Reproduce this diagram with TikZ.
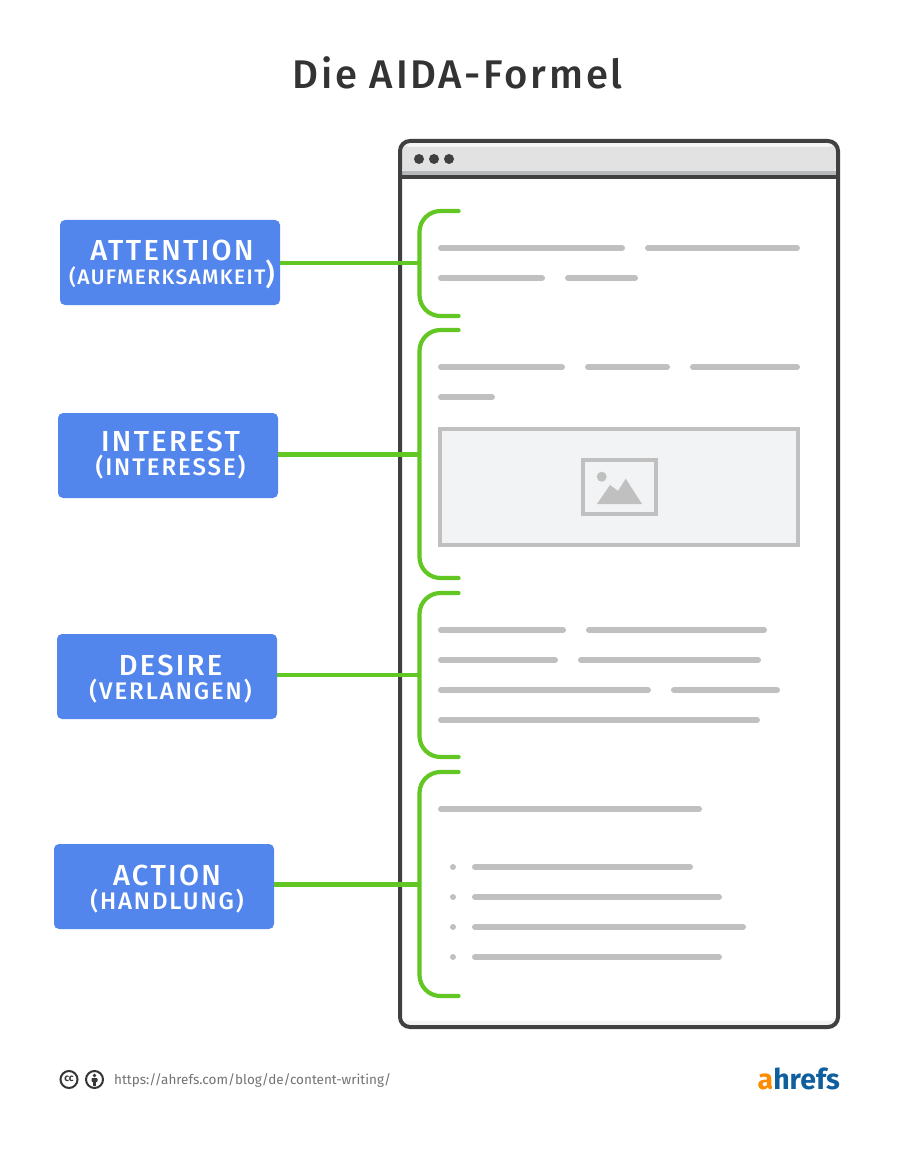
\documentclass[tikz,border=0pt]{standalone}
\usepackage{fontspec}
\setmainfont{Fira Sans}
\newfontfamily\titlefont[LetterSpace=7]{Fira Sans Medium}
\newfontfamily\boxfont[LetterSpace=8]{Fira Sans Medium}
\newfontfamily\boxfontb[LetterSpace=6.5]{Fira Sans Medium}
\newfontfamily\logofont{Fira Sans}
\definecolor{frame}{HTML}{404040}
\definecolor{hdr}{HTML}{E2E2E2}
\definecolor{hdrtop}{HTML}{F5F5F5}
\definecolor{hdrband}{HTML}{B6B9BC}
\definecolor{barc}{HTML}{C0C0C0}
\definecolor{imgbg}{HTML}{F2F3F5}
\definecolor{grn}{HTML}{62C722}
\definecolor{bluebox}{HTML}{5286EC}
\definecolor{lgor}{HTML}{FF8C00}
\definecolor{lgbl}{HTML}{0F5F9F}
\tikzset{
  bar/.style={line width=6pt,draw=barc,line cap=round},
  bracket/.style={line width=4.2pt,draw=grn,line cap=round,rounded corners=21pt},
  link/.style={line width=4.4pt,draw=grn},
  labelbox/.style={fill=bluebox,rounded corners=5pt,minimum width=220pt,minimum height=85pt,inner sep=0pt},
  boxtext/.style={text=white,inner sep=0pt,anchor=base},
  dot/.style={circle,fill=frame,inner sep=0pt,minimum size=10pt},
  bullet/.style={circle,fill=barc,inner sep=0pt,minimum size=6pt},
}
\newcommand{\tbar}[3]{\draw[bar] (#1+3,#3) -- (#2-3,#3);}
\begin{document}
\begin{tikzpicture}[x=1pt,y=-1pt]
\useasboundingbox (0,0) rectangle (900,1150);
\fill[white] (0,0) rectangle (900,1150);
\node[anchor=base,text=frame!80!black,font=\titlefont\fontsize{40}{42}\selectfont,inner sep=0pt] (title) at (457.5,88.5) {Die AIDA-Formel};
% browser
\fill[hdr,rounded corners=8pt] (402,143) rectangle (836,175);
\fill[hdrtop,rounded corners=8pt] (402,143) -- (836,143) -- (836,147) -- (402,147) -- cycle;
\fill[hdrband] (402,171) rectangle (836,175);
\fill[imgbg] (402,1021) rectangle (836,1025);
\draw[frame,line width=4pt] (400,177) -- (838,177);
\draw[frame,line width=4pt,rounded corners=10pt] (400,141) rectangle (838,1027);
\node[dot] (d1) at (419,159) {};
\node[dot] (d2) at (434,159) {};
\node[dot] (d3) at (449,159) {};
% text bars
\tbar{438}{625}{248}\tbar{645}{800}{248}
\tbar{438}{545}{278}\tbar{565}{638}{278}
\tbar{438}{565}{367}\tbar{585}{670}{367}\tbar{690}{800}{367}
\tbar{438}{495}{397}
\tbar{438}{566}{630}\tbar{586}{767}{630}
\tbar{438}{558}{660}\tbar{578}{761}{660}
\tbar{438}{651}{690}\tbar{671}{780}{690}
\tbar{438}{760}{720}
\tbar{438}{702}{809}
\tbar{472}{693}{867}\tbar{472}{722}{897}\tbar{472}{746}{927}\tbar{472}{722}{957}
\foreach \yy/\nn in {867/a,897/b,927/c,957/d} \node[bullet] (bul\nn) at (453,\yy) {};
% image placeholder
\draw[barc,line width=4pt,fill=imgbg] (440,429) rectangle (798,545);
\draw[barc,line width=4pt] (583,460) rectangle (656,514);
\fill[barc] (601.7,476.7) circle (5pt);
\fill[barc] (597,504) -- (610,485) -- (618,491) -- (625.7,478.7) -- (642,504) -- cycle;
% brackets
\draw[bracket] (458.5,211) -- (419.5,211) -- (419.5,316) -- (458.5,316);
\draw[bracket] (458.5,330) -- (419.5,330) -- (419.5,578) -- (458.5,578);
\draw[bracket] (458.5,593) -- (419.5,593) -- (419.5,757) -- (458.5,757);
\draw[bracket] (458.5,772) -- (419.5,772) -- (419.5,996) -- (458.5,996);
\coordinate (b1) at (419.5,263);
\coordinate (b2) at (419.5,454.5);
\coordinate (b3) at (419.5,675);
\coordinate (b4) at (419.5,884.3);
% label boxes
\node[labelbox] (att) at (170,262.5) {};
\node[labelbox] (int) at (168,455.5) {};
\node[labelbox] (des) at (167,676.5) {};
\node[labelbox] (act) at (164,886.5) {};
\draw[link] (att.east |- b1) -- (b1);
\draw[link] (int.east |- b2) -- (b2);
\draw[link] (des.east |- b3) -- (b3);
\draw[link] (act.east |- b4) -- (b4);
\newcommand{\mainfs}{\boxfont\fontsize{29}{31}\selectfont}
\newcommand{\subfs}{\boxfont\fontsize{24}{26}\selectfont}
\newcommand{\subfsb}{\boxfontb\fontsize{21}{23}\selectfont}
\node[boxtext,font=\mainfs] (t1a) at (172,260) {ATTENTION};
\node[boxtext,font=\subfsb] (t1b) at (172,284) {(AUFMERKSAMKEIT{\mainfs)}};
\node[boxtext,font=\mainfs] (t2a) at (170.5,451) {INTEREST};
\node[boxtext,font=\subfs] (t2b) at (170.5,475) {(INTERESSE)};
\node[boxtext,font=\mainfs] (t3a) at (170.5,675) {DESIRE};
\node[boxtext,font=\subfs] (t3b) at (170.5,699) {(VERLANGEN)};
\node[boxtext,font=\mainfs] (t4a) at (167,885) {ACTION};
\node[boxtext,font=\subfs] (t4b) at (167,909) {(HANDLUNG)};
% footer
\draw[frame!85!black,line width=2pt] (69,1079.5) circle (8.5pt);
\node[font=\bfseries\fontsize{10}{10}\selectfont,text=frame!85!black,inner sep=0pt] (cc) at (69,1079) {cc};
\draw[frame!85!black,line width=2pt] (94.5,1079.5) circle (8.5pt);
\fill[frame!85!black] (94.5,1075.5) circle (1.8pt);
\fill[frame!85!black,rounded corners=0.8pt] (91.5,1078) rectangle (97.5,1082);
\fill[frame!85!black] (92.8,1081) rectangle (96.2,1085.5);
\node[anchor=base west,inner sep=0pt,text=black!55,font=\fontsize{13.5}{16}\selectfont] (url) at (114,1084) {https://ahrefs.com/blog/de/content-writing/};
\node[anchor=base east,inner sep=0pt,font=\logofont\bfseries\fontsize{28.5}{30}\selectfont] (logo) at (840,1089) {\textcolor{lgor}{a}\textcolor{lgbl}{hrefs}};
\end{tikzpicture}
\end{document}
